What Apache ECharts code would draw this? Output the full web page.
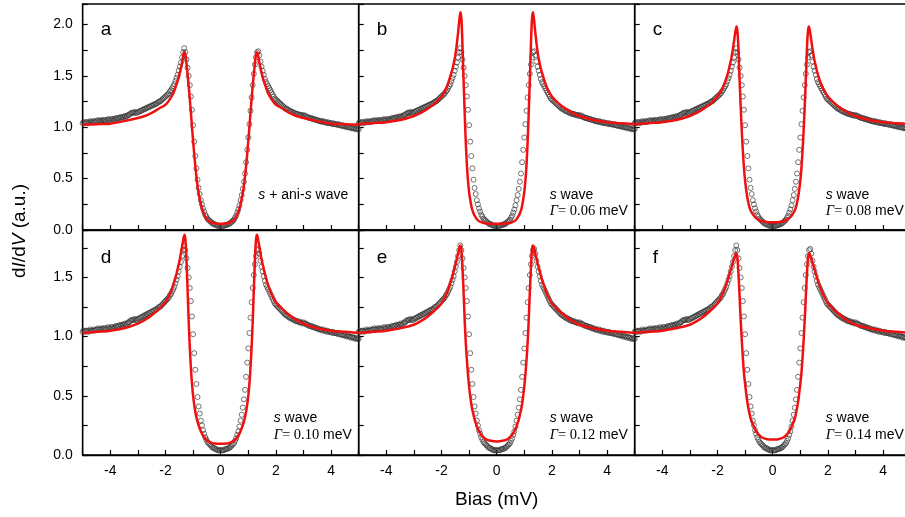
<!DOCTYPE html>
<html><head><meta charset="utf-8">
<script src="https://cdn.jsdelivr.net/npm/echarts@6/dist/echarts.min.js"></script>
<style>html,body{margin:0;padding:0;background:#fff}#c{width:905px;height:517px}</style>
</head><body><div id="c"></div>
<script>
// ---- measured data (bias in mV, dI/dV normalized) ----
const bias = [
-5.00,-4.96,-4.92,-4.88,-4.84,-4.80,-4.76,-4.72,-4.68,-4.64,
-4.60,-4.56,-4.52,-4.48,-4.44,-4.40,-4.36,-4.32,-4.28,-4.24,
-4.20,-4.16,-4.12,-4.08,-4.04,-4.00,-3.96,-3.92,-3.88,-3.84,
-3.80,-3.76,-3.72,-3.68,-3.64,-3.60,-3.56,-3.52,-3.48,-3.44,
-3.40,-3.36,-3.32,-3.28,-3.24,-3.20,-3.16,-3.12,-3.08,-3.04,
-3.00,-2.96,-2.92,-2.88,-2.84,-2.80,-2.76,-2.72,-2.68,-2.64,
-2.60,-2.56,-2.52,-2.48,-2.44,-2.40,-2.36,-2.32,-2.28,-2.24,
-2.20,-2.16,-2.12,-2.08,-2.04,-2.00,-1.96,-1.92,-1.88,-1.84,
-1.80,-1.76,-1.72,-1.68,-1.64,-1.60,-1.56,-1.52,-1.48,-1.44,
-1.40,-1.36,-1.32,-1.28,-1.24,-1.20,-1.16,-1.12,-1.08,-1.04,
-1.00,-0.96,-0.92,-0.88,-0.84,-0.80,-0.76,-0.72,-0.68,-0.64,
-0.60,-0.56,-0.52,-0.48,-0.44,-0.40,-0.36,-0.32,-0.28,-0.24,
-0.20,-0.16,-0.12,-0.08,-0.04,0.00,0.04,0.08,0.12,0.16,
0.20,0.24,0.28,0.32,0.36,0.40,0.44,0.48,0.52,0.56,
0.60,0.64,0.68,0.72,0.76,0.80,0.84,0.88,0.92,0.96,
1.00,1.04,1.08,1.12,1.16,1.20,1.24,1.28,1.32,1.36,
1.40,1.44,1.48,1.52,1.56,1.60,1.64,1.68,1.72,1.76,
1.80,1.84,1.88,1.92,1.96,2.00,2.04,2.08,2.12,2.16,
2.20,2.24,2.28,2.32,2.36,2.40,2.44,2.48,2.52,2.56,
2.60,2.64,2.68,2.72,2.76,2.80,2.84,2.88,2.92,2.96,
3.00,3.04,3.08,3.12,3.16,3.20,3.24,3.28,3.32,3.36,
3.40,3.44,3.48,3.52,3.56,3.60,3.64,3.68,3.72,3.76,
3.80,3.84,3.88,3.92,3.96,4.00,4.04,4.08,4.12,4.16,
4.20,4.24,4.28,4.32,4.36,4.40,4.44,4.48,4.52,4.56,
4.60,4.64,4.68,4.72,4.76,4.80,4.84,4.88,4.92,4.96,
5.00];
const dIdV = [
1.04,1.05,1.04,1.05,1.05,1.04,1.05,1.06,1.05,1.05,
1.06,1.05,1.06,1.06,1.07,1.06,1.06,1.07,1.06,1.07,
1.07,1.06,1.07,1.08,1.07,1.07,1.08,1.08,1.07,1.08,
1.09,1.08,1.09,1.09,1.10,1.09,1.10,1.10,1.11,1.10,
1.11,1.12,1.12,1.13,1.14,1.14,1.14,1.15,1.14,1.14,
1.15,1.15,1.16,1.16,1.17,1.17,1.18,1.18,1.19,1.19,
1.20,1.20,1.21,1.21,1.22,1.22,1.23,1.23,1.24,1.25,
1.25,1.26,1.27,1.28,1.29,1.30,1.31,1.32,1.33,1.35,
1.36,1.38,1.40,1.42,1.45,1.48,1.51,1.55,1.59,1.63,
1.68,1.73,1.77,1.73,1.66,1.58,1.50,1.41,1.30,1.17,
1.02,0.86,0.72,0.60,0.49,0.41,0.35,0.29,0.25,0.21,
0.18,0.15,0.13,0.11,0.10,0.09,0.08,0.07,0.06,0.06,
0.05,0.05,0.04,0.04,0.04,0.04,0.04,0.04,0.04,0.05,
0.05,0.05,0.06,0.06,0.07,0.08,0.09,0.10,0.12,0.14,
0.17,0.20,0.24,0.29,0.34,0.40,0.47,0.55,0.66,0.78,
0.90,1.03,1.16,1.29,1.41,1.52,1.61,1.68,1.73,1.74,
1.70,1.64,1.59,1.55,1.51,1.47,1.44,1.42,1.40,1.38,
1.36,1.34,1.32,1.30,1.28,1.27,1.26,1.25,1.24,1.23,
1.22,1.21,1.20,1.19,1.18,1.18,1.17,1.16,1.16,1.15,
1.15,1.14,1.14,1.13,1.13,1.13,1.12,1.12,1.12,1.11,
1.12,1.11,1.11,1.10,1.10,1.09,1.09,1.09,1.08,1.08,
1.08,1.07,1.07,1.07,1.06,1.06,1.06,1.05,1.06,1.05,
1.05,1.04,1.05,1.04,1.04,1.04,1.03,1.04,1.03,1.03,
1.03,1.02,1.03,1.02,1.02,1.01,1.02,1.01,1.01,1.00,
1.01,1.00,1.00,0.99,1.00,0.99,0.99,0.98,0.99,0.98,
0.98];

// ---- fitted curves ----
const fitBias = [-5,-4.5,-4,-3.5,-3,-2.75,-2.5,-2.25,-2,-1.9,-1.8,-1.7,-1.6,-1.55,-1.5,-1.45,-1.4,-1.37,-1.34,-1.31,-1.28,-1.25,-1.22,-1.19,-1.16,-1.13,-1.1,-1.07,-1.04,-1,-0.95,-0.9,-0.85,-0.8,-0.7,-0.6,-0.5,-0.4,-0.3,-0.2,-0.1,
0,
0.1,0.2,0.3,0.4,0.5,0.6,0.7,0.8,0.85,0.9,0.95,1,1.04,1.07,1.1,1.13,1.16,1.19,1.22,1.25,1.28,1.31,1.34,1.37,1.4,1.45,1.5,1.55,1.6,1.7,1.8,1.9,2,2.25,2.5,2.75,3,3.5,4,4.5,5];
const fitA = [1.025,1.03,1.035,1.06,1.09,1.11,1.14,1.18,1.22,1.25,1.29,1.34,1.42,1.46,1.51,1.57,1.63,1.68,1.72,1.73,1.71,1.65,1.57,1.49,1.40,1.31,1.21,1.11,1.00,0.87,0.71,0.57,0.45,0.36,0.23,0.15,0.105,0.08,0.07,0.065,0.06,
0.06,
0.06,0.065,0.07,0.08,0.105,0.15,0.23,0.36,0.45,0.57,0.71,0.87,1.00,1.11,1.21,1.31,1.40,1.49,1.57,1.65,1.71,1.73,1.72,1.68,1.63,1.57,1.51,1.46,1.42,1.34,1.29,1.25,1.22,1.18,1.14,1.11,1.09,1.06,1.035,1.03,1.025];
const fitB = [1.03,1.04,1.05,1.07,1.11,1.14,1.18,1.23,1.30,1.34,1.40,1.48,1.57,1.63,1.70,1.80,1.92,2.00,2.08,2.12,2.06,1.88,1.62,1.38,1.14,0.92,0.74,0.59,0.48,0.37,0.28,0.21,0.17,0.14,0.10,0.08,0.07,0.065,0.062,0.06,0.06,
0.06,
0.06,0.06,0.062,0.065,0.07,0.08,0.10,0.14,0.17,0.21,0.28,0.37,0.48,0.59,0.74,0.92,1.14,1.38,1.62,1.88,2.06,2.12,2.08,2.00,1.92,1.80,1.70,1.63,1.57,1.48,1.40,1.34,1.30,1.23,1.18,1.14,1.11,1.07,1.05,1.04,1.03];
const fitC = [1.03,1.04,1.05,1.07,1.11,1.14,1.18,1.23,1.30,1.34,1.39,1.46,1.55,1.61,1.67,1.75,1.84,1.90,1.95,1.98,1.94,1.82,1.60,1.40,1.20,1.02,0.86,0.72,0.60,0.48,0.37,0.29,0.23,0.19,0.145,0.115,0.097,0.087,0.08,0.077,0.075,
0.075,
0.075,0.077,0.08,0.087,0.097,0.115,0.145,0.19,0.23,0.29,0.37,0.48,0.60,0.72,0.86,1.02,1.20,1.40,1.60,1.82,1.94,1.98,1.95,1.90,1.84,1.75,1.67,1.61,1.55,1.46,1.39,1.34,1.30,1.23,1.18,1.14,1.11,1.07,1.05,1.04,1.03];
const fitD = [1.03,1.04,1.05,1.07,1.11,1.14,1.18,1.23,1.29,1.33,1.38,1.45,1.53,1.58,1.63,1.69,1.76,1.80,1.84,1.86,1.82,1.70,1.52,1.33,1.13,0.96,0.82,0.70,0.60,0.50,0.41,0.34,0.29,0.25,0.19,0.15,0.125,0.11,0.10,0.097,0.095,
0.095,
0.095,0.097,0.10,0.11,0.125,0.15,0.19,0.25,0.29,0.34,0.41,0.50,0.60,0.70,0.82,0.96,1.13,1.33,1.52,1.70,1.82,1.86,1.84,1.80,1.76,1.69,1.63,1.58,1.53,1.45,1.38,1.33,1.29,1.23,1.18,1.14,1.11,1.07,1.05,1.04,1.03];
const fitE = [1.03,1.04,1.05,1.07,1.10,1.13,1.17,1.22,1.28,1.32,1.37,1.44,1.51,1.56,1.60,1.65,1.70,1.73,1.76,1.77,1.74,1.63,1.48,1.32,1.14,0.99,0.87,0.77,0.68,0.58,0.48,0.40,0.35,0.30,0.23,0.185,0.155,0.135,0.125,0.12,0.117,
0.115,
0.117,0.12,0.125,0.135,0.155,0.185,0.23,0.30,0.35,0.40,0.48,0.58,0.68,0.77,0.87,0.99,1.14,1.32,1.48,1.63,1.74,1.77,1.76,1.73,1.70,1.65,1.60,1.56,1.51,1.44,1.37,1.32,1.28,1.22,1.17,1.13,1.10,1.07,1.05,1.04,1.03];
const fitF = [1.03,1.04,1.05,1.07,1.10,1.13,1.17,1.22,1.28,1.32,1.37,1.43,1.50,1.54,1.58,1.62,1.66,1.68,1.70,1.70,1.67,1.57,1.44,1.29,1.14,1.01,0.89,0.78,0.69,0.60,0.50,0.42,0.36,0.31,0.25,0.20,0.17,0.15,0.14,0.133,0.13,
0.13,
0.13,0.133,0.14,0.15,0.17,0.20,0.25,0.31,0.36,0.42,0.50,0.60,0.69,0.78,0.89,1.01,1.14,1.29,1.44,1.57,1.67,1.70,1.70,1.68,1.66,1.62,1.58,1.54,1.50,1.43,1.37,1.32,1.28,1.22,1.17,1.13,1.10,1.07,1.05,1.04,1.03];

const fits = [fitA, fitB, fitC, fitD, fitE, fitF];
const panelLetters = ['a','b','c','d','e','f'];
const gammaValues = [null,'0.06','0.08','0.10','0.12','0.14'];
const xTicks = [-4,-2,0,2,4];
const yMax = [2.2, 1.9];

// ---- layout ----
const SANS = '"Liberation Sans", Arial, Helvetica, sans-serif';
const SERIF = '"Liberation Serif", "Times New Roman", serif';
const colLeft = [82.7, 358.7, 634.7];
const rowTop = [4, 230];
const panelW = 276;
const rowH = [226, 225];

const grids = [], xAxes = [], yAxes = [], series = [], graphics = [];
for (let p = 0; p < 6; p++) {
  const r = Math.floor(p / 3), c = p % 3;
  grids.push({left: colLeft[c], top: rowTop[r], width: panelW, height: rowH[r],
    show: true, borderColor: '#000', borderWidth: 1.3, backgroundColor: 'transparent',
    containLabel: false, outerBoundsMode: 'none'});
  xAxes.push({type: 'value', gridIndex: p, min: -5, max: 5, interval: 1,
    axisLine: {show: true, onZero: false, lineStyle: {color: '#000', width: 1.3}},
    axisTick: {show: true, inside: true, length: 5, lineStyle: {color: '#000', width: 1.2}},
    splitLine: {show: false},
    axisLabel: {show: r === 1, margin: 9, color: '#000', fontSize: 14, fontFamily: SANS,
      hideOverlap: false, showMinLabel: true, showMaxLabel: true,
      formatter: v => { const k = Math.round(v); return xTicks.indexOf(k) >= 0 && Math.abs(v - k) < 1e-6 ? String(k) : ''; }}
  });
  yAxes.push({type: 'value', gridIndex: p, min: 0, max: yMax[r], interval: 0.25,
    axisLine: {show: true, onZero: false, lineStyle: {color: '#000', width: 1.3}},
    axisTick: {show: true, inside: true, length: 5, lineStyle: {color: '#000', width: 1.2}},
    splitLine: {show: false},
    axisLabel: {show: c === 0, margin: 10, color: '#000', fontSize: 14, fontFamily: SANS,
      hideOverlap: false,
      formatter: v => { const q = Math.round(v * 2); return Math.abs(v * 2 - q) < 1e-6 ? v.toFixed(1) : ''; }}
  });
  series.push({type: 'scatter', xAxisIndex: p, yAxisIndex: p, z: 2,
    symbol: 'circle', symbolSize: 5, silent: true,
    itemStyle: {color: 'rgba(0,0,0,0)', borderColor: '#333', borderWidth: 0.85},
    data: bias.map((x, i) => [x, dIdV[i]])});
  series.push({type: 'line', xAxisIndex: p, yAxisIndex: p, z: 5,
    showSymbol: false, smooth: 0.3, silent: true,
    lineStyle: {color: '#f01010', width: 2.5},
    data: fitBias.map((x, i) => [x, fits[p][i]])});

  // panel letter
  graphics.push({type: 'text', x: colLeft[c] + 18, y: rowTop[r] + 26 + (r === 1 ? 2 : 0),
    style: {text: panelLetters[p], font: '19px ' + SANS, fill: '#000', textAlign: 'left', textVerticalAlign: 'middle'}});
  // annotations
  const baseS = r === 0 ? 195 : 418.5;
  if (p === 0) {
    graphics.push({type: 'text', x: colLeft[c] + panelW - 10.5, y: baseS,
      style: {text: '{i|s} + ani-{i|s} wave', textAlign: 'right', textVerticalAlign: 'middle',
        font: '14px ' + SANS, fill: '#000',
        rich: {i: {fontStyle: 'italic', fontSize: 14, fontFamily: SANS, fill: '#000'}}}});
  } else {
    const ax = colLeft[c] + 191;
    graphics.push({type: 'text', x: ax, y: baseS,
      style: {text: '{i|s} wave', textAlign: 'left', textVerticalAlign: 'middle',
        font: '14px ' + SANS, fill: '#000',
        rich: {i: {fontStyle: 'italic', fontSize: 14, fontFamily: SANS, fill: '#000'}}}});
    graphics.push({type: 'text', x: ax, y: baseS + 16.5,
      style: {text: '{g|Γ}{t|= ' + gammaValues[p] + '} meV', textAlign: 'left', textVerticalAlign: 'middle',
        font: '14px ' + SANS, fill: '#000',
        rich: {g: {fontStyle: 'italic', fontSize: 14.5, fontFamily: SERIF, fill: '#000'},
               t: {fontSize: 14.5, fontFamily: SERIF, fill: '#000'}}}});
  }
}
// axis titles
graphics.push({type: 'text', x: 20, y: 231, rotation: Math.PI / 2,
  style: {text: 'd{i|I}/d{i|V} (a.u.)', textAlign: 'center', textVerticalAlign: 'middle',
    font: '19px ' + SANS, fill: '#000',
    rich: {i: {fontStyle: 'italic', fontSize: 19, fontFamily: SANS, fill: '#000'}}}});
graphics.push({type: 'text', x: 496.7, y: 500,
  style: {text: 'Bias (mV)', textAlign: 'center', textVerticalAlign: 'middle',
    font: '19px ' + SANS, fill: '#000'}});

const chart = echarts.init(document.getElementById('c'), null, {renderer: 'canvas'});
chart.setOption({
  animation: false,
  backgroundColor: '#fff',
  grid: grids, xAxis: xAxes, yAxis: yAxes, series: series,
  graphic: {elements: graphics}
});
</script></body></html>
